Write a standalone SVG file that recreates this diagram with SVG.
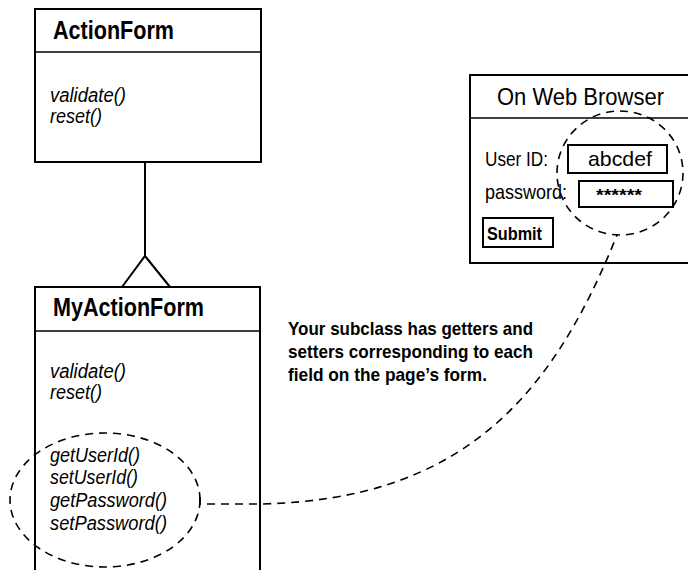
<svg xmlns="http://www.w3.org/2000/svg" width="688" height="570" viewBox="0 0 688 570">
<style>
.box{fill:#fff;stroke:#000;stroke-width:2}
.sep{stroke:#000;stroke-width:1.6}
.t{font-family:"Liberation Sans",Arial,sans-serif;fill:#000}
.title{font-size:25px;font-weight:bold}
.m{font-size:20px;font-style:italic}
.lbl{font-size:21px}
.note{font-size:19px;font-weight:bold}
.dash{fill:none;stroke:#000;stroke-width:1.6;stroke-dasharray:8 6}
.line{fill:none;stroke:#000;stroke-width:2}
</style>
<rect width="688" height="570" fill="#fff"/>
<g id="ActionForm">
<rect class="box" x="35" y="9" width="226" height="153"/>
<line class="sep" x1="35" y1="52" x2="261" y2="52"/>
<text class="t title" x="53" y="39" textLength="121" lengthAdjust="spacingAndGlyphs">ActionForm</text>
<text class="t m" x="50" y="102" textLength="76" lengthAdjust="spacingAndGlyphs">validate()</text>
<text class="t m" x="50" y="123" textLength="52" lengthAdjust="spacingAndGlyphs">reset()</text>
</g>
<g id="MyActionForm">
<rect class="box" x="35" y="287" width="225" height="300"/>
<line class="sep" x1="35" y1="331" x2="260" y2="331"/>
<text class="t title" x="53" y="316" textLength="151" lengthAdjust="spacingAndGlyphs">MyActionForm</text>
<text class="t m" x="50" y="378" textLength="76" lengthAdjust="spacingAndGlyphs">validate()</text>
<text class="t m" x="50" y="399" textLength="52" lengthAdjust="spacingAndGlyphs">reset()</text>
<text class="t m" x="50" y="462" textLength="90" lengthAdjust="spacingAndGlyphs">getUserId()</text>
<text class="t m" x="50" y="484" textLength="88" lengthAdjust="spacingAndGlyphs">setUserId()</text>
<text class="t m" x="50" y="507" textLength="117" lengthAdjust="spacingAndGlyphs">getPassword()</text>
<text class="t m" x="50" y="530" textLength="117" lengthAdjust="spacingAndGlyphs">setPassword()</text>
<ellipse class="dash" cx="105" cy="500" rx="95" ry="67"/>
</g>
<g id="Browser">
<rect class="box" x="470" y="75" width="222" height="188"/>
<line class="sep" x1="470" y1="118" x2="692" y2="118"/>
<text class="t" x="497" y="105" font-size="24" textLength="167" lengthAdjust="spacingAndGlyphs">On Web Browser</text>
<text class="t lbl" x="485" y="166" textLength="63" lengthAdjust="spacingAndGlyphs">User ID:</text>
<text class="t lbl" x="485" y="199" textLength="82" lengthAdjust="spacingAndGlyphs">password:</text>
<rect class="box" x="568" y="145" width="99" height="28" stroke-width="1.6"/>
<text class="t lbl" x="588" y="166" textLength="64" lengthAdjust="spacingAndGlyphs">abcdef</text>
<rect class="box" x="579" y="181" width="94" height="26" stroke-width="1.6"/>
<text class="t" x="596" y="201" font-size="16" font-weight="bold" textLength="46" lengthAdjust="spacingAndGlyphs">******</text>
<rect class="box" x="483" y="218" width="70" height="29" stroke-width="1.6"/>
<text class="t" x="487" y="240" font-size="19" font-weight="bold" textLength="55" lengthAdjust="spacingAndGlyphs">Submit</text>
<ellipse class="dash" cx="620" cy="173" rx="63" ry="62"/>
</g>
<g id="note">
<text class="t note" x="288" y="335" textLength="245" lengthAdjust="spacingAndGlyphs">Your subclass has getters and</text>
<text class="t note" x="288" y="358" textLength="245" lengthAdjust="spacingAndGlyphs">setters corresponding to each</text>
<text class="t note" x="288" y="381" textLength="199" lengthAdjust="spacingAndGlyphs">field on the page’s form.</text>
</g>
<g id="connectors">
<path class="line" d="M145,162 L145,256 M122,287 L145,256 L170,287"/>
<path class="dash" d="M200,497 L200,504 L260,504 C460,500 551,400 617,235"/>
</g>
</svg>
